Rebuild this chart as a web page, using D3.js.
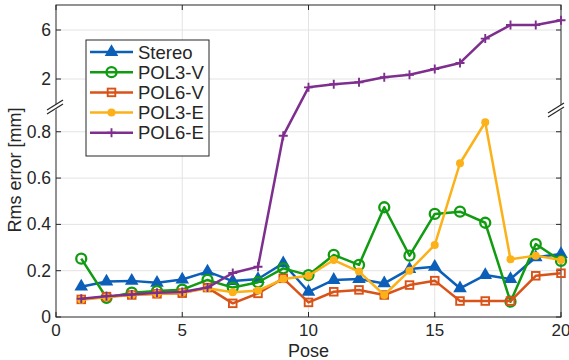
<!DOCTYPE html>
<html>
<head>
<meta charset="utf-8">
<script src="https://cdn.jsdelivr.net/npm/d3@7"></script>
<style>
  body { margin: 0; background: #fff; }
  text { font-family: "Liberation Sans", Arial, sans-serif; fill: #262626; }
</style>
</head>
<body>
<script>
const w = 569;
const h = 360;

// data
const poses = d3.range(1, 21);
const stereo = [0.131, 0.153, 0.156, 0.148, 0.162, 0.196, 0.155, 0.164, 0.232, 0.109, 0.160, 0.164, 0.145, 0.207, 0.217, 0.124, 0.181, 0.164, 0.258, 0.272];
const pol3v  = [0.252, 0.083, 0.105, 0.112, 0.118, 0.160, 0.127, 0.150, 0.210, 0.181, 0.268, 0.225, 0.474, 0.265, 0.445, 0.455, 0.407, 0.066, 0.315, 0.242];
const pol6v  = [0.076, 0.088, 0.095, 0.100, 0.103, 0.127, 0.059, 0.102, 0.167, 0.063, 0.109, 0.117, 0.095, 0.138, 0.157, 0.069, 0.069, 0.069, 0.178, 0.189];
const pol3e  = [0.075, 0.085, 0.095, 0.100, 0.105, 0.124, 0.107, 0.114, 0.164, 0.178, 0.246, 0.196, 0.095, 0.200, 0.311, 0.664, 0.841, 0.249, 0.265, 0.246];
const pol6e  = [0.079, 0.090, 0.097, 0.105, 0.108, 0.127, 0.190, 0.217, 0.783, 1.32, 1.57, 1.73, 2.14, 2.35, 2.82, 3.31, 5.30, 6.41, 6.41, 6.79];
const names = ["Stereo", "POL3-V", "POL6-V", "POL3-E", "POL6-E"];
const xTicks = [0, 5, 10, 15, 20];
const yTicksLow = [0, 0.2, 0.4, 0.6, 0.8];
const yTicksHigh = [2, 6];
const breakAt = 0.9;

const pLeft = 56, pRight = 561, pTop = 5, pBottom = 317;
const breakY = 108.6;

const x = d3.scaleLinear().domain([0, 20]).range([pLeft, pRight]);
const yLow = d3.scaleLinear().domain([0, breakAt]).range([pBottom, breakY]);
const yHigh = d3.scaleLinear().domain([2, 6]).range([79, 30]);
const y = v => v <= breakAt ? yLow(v) : yHigh(v);

const series = [
  {name: names[0], vals: stereo, color: "#0b5fb8", marker: "tri"},
  {name: names[1], vals: pol3v, color: "#119b11", marker: "ocircle"},
  {name: names[2], vals: pol6v, color: "#d95319", marker: "square"},
  {name: names[3], vals: pol3e, color: "#fbb117", marker: "dot"},
  {name: names[4], vals: pol6e, color: "#7e2f8e", marker: "plus"}
];

const svg = d3.select("body").append("svg").attr("width", w).attr("height", h);

// grid
const grid = svg.append("g").attr("stroke", "#e3e3e3").attr("stroke-width", 1);
xTicks.slice(1, -1).forEach(t => grid.append("line")
  .attr("x1", x(t)).attr("x2", x(t)).attr("y1", pTop).attr("y2", pBottom));
yTicksLow.slice(1).forEach(t => grid.append("line")
  .attr("x1", pLeft).attr("x2", pRight).attr("y1", yLow(t)).attr("y2", yLow(t)));
yTicksHigh.forEach(t => grid.append("line")
  .attr("x1", pLeft).attr("x2", pRight).attr("y1", yHigh(t)).attr("y2", yHigh(t)));

// box + ticks
const ax = svg.append("g").attr("stroke", "#262626").attr("stroke-width", 1).attr("fill", "none");
ax.append("rect").attr("x", pLeft).attr("y", pTop).attr("width", pRight - pLeft).attr("height", pBottom - pTop);
xTicks.forEach(t => {
  ax.append("line").attr("x1", x(t)).attr("x2", x(t)).attr("y1", pBottom).attr("y2", pBottom - 5);
  ax.append("line").attr("x1", x(t)).attr("x2", x(t)).attr("y1", pTop).attr("y2", pTop + 5);
});
yTicksLow.map(yLow).concat(yTicksHigh.map(yHigh)).forEach(py => {
  ax.append("line").attr("x1", pLeft).attr("x2", pLeft + 5).attr("y1", py).attr("y2", py);
  ax.append("line").attr("x1", pRight).attr("x2", pRight - 5).attr("y1", py).attr("y2", py);
});

// tick labels
svg.append("g").selectAll("text").data(xTicks).join("text")
  .attr("x", d => x(d)).attr("y", pBottom + 19)
  .attr("text-anchor", "middle").attr("font-size", 17).text(d => d);
svg.append("g").selectAll("text").data(yTicksLow).join("text")
  .attr("x", pLeft - 5).attr("y", d => yLow(d) + 6)
  .attr("text-anchor", "end").attr("font-size", 17.5).text(d => d);
svg.append("g").selectAll("text").data(yTicksHigh).join("text")
  .attr("x", pLeft - 5).attr("y", d => yHigh(d) + 6)
  .attr("text-anchor", "end").attr("font-size", 17.5).text(d => d);

// axis labels
svg.append("text").attr("x", x(10)).attr("y", 357)
  .attr("text-anchor", "middle").attr("font-size", 18).text("Pose");
svg.append("text").attr("transform", "translate(21,170) rotate(-90)")
  .attr("text-anchor", "middle").attr("font-size", 18).text("Rms error [mm]");

// break marks
[[55, 106], [556, 109]].forEach(([cx, cy]) => {
  const g = svg.append("g");
  g.append("polygon")
    .attr("points", `${cx - 8},${cy + 4.5} ${cx + 8},${cy - 6} ${cx + 8},${cy - 1} ${cx - 8},${cy + 9.5}`)
    .attr("fill", "#fff");
  [0, 4].forEach(o => g.append("line")
    .attr("x1", cx - 8).attr("y1", cy + 4 + o).attr("x2", cx + 8).attr("y2", cy - 6 + o)
    .attr("stroke", "#262626").attr("stroke-width", 1.2));
});

// markers
function drawMarker(g, type, color, px, py) {
  if (type === "tri") {
    g.append("path").attr("d", d3.symbol(d3.symbolTriangle, 80)())
      .attr("transform", `translate(${px},${py})`).attr("fill", color);
  } else if (type === "ocircle") {
    g.append("circle").attr("cx", px).attr("cy", py).attr("r", 5)
      .attr("fill", "none").attr("stroke", color).attr("stroke-width", 2.3);
  } else if (type === "square") {
    g.append("rect").attr("x", px - 3.8).attr("y", py - 3.8).attr("width", 7.6).attr("height", 7.6)
      .attr("fill", "none").attr("stroke", color).attr("stroke-width", 1.9);
  } else if (type === "dot") {
    g.append("circle").attr("cx", px).attr("cy", py).attr("r", 4).attr("fill", color);
  } else if (type === "plus") {
    g.append("path").attr("d", `M${px - 4.5},${py}H${px + 4.5}M${px},${py - 4.5}V${py + 4.5}`)
      .attr("stroke", color).attr("stroke-width", 1.9);
  }
}

const line = d3.line().x((d, i) => x(poses[i])).y(d => y(d));
series.forEach(s => {
  const g = svg.append("g");
  g.append("path").attr("d", line(s.vals)).attr("fill", "none")
    .attr("stroke", s.color).attr("stroke-width", 2.5).attr("stroke-linejoin", "round");
  s.vals.forEach((v, i) => drawMarker(g, s.marker, s.color, x(poses[i]), y(v)));
});

// legend
const lg = svg.append("g");
lg.append("rect").attr("x", 86).attr("y", 40).attr("width", 123).attr("height", 116)
  .attr("fill", "#fff").attr("stroke", "#262626").attr("stroke-width", 1);
series.forEach((s, i) => {
  const ly = 52 + i * 20.2;
  lg.append("line").attr("x1", 90).attr("x2", 133).attr("y1", ly).attr("y2", ly)
    .attr("stroke", s.color).attr("stroke-width", 2.5);
  drawMarker(lg, s.marker, s.color, 111.5, ly);
  lg.append("text").attr("x", 138).attr("y", ly + 6.5).attr("font-size", 18.5).text(s.name);
});
</script>
</body>
</html>
